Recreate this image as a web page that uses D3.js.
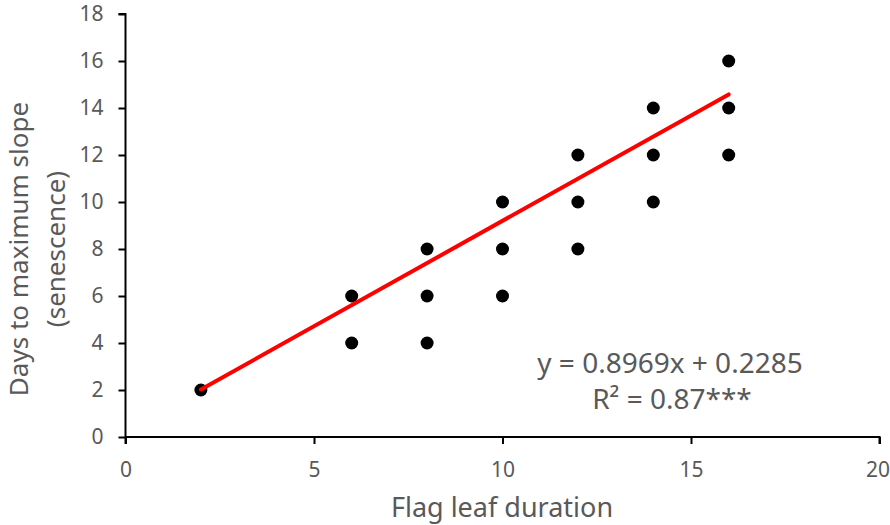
<!DOCTYPE html>
<html>
<head>
<meta charset="utf-8">
<script src="https://cdn.jsdelivr.net/npm/d3@7/dist/d3.min.js"></script>
<style>
  html, body { margin: 0; padding: 0; background: #fff; }
  svg { display: block; font-family: "Noto Sans", "Open Sans", sans-serif; }
</style>
</head>
<body>
<svg id="chart" width="890" height="525"></svg>
<script>
// Flag leaf duration (x) vs days to maximum slope of senescence (y)
const flagLeafDuration = [2, 6, 6, 8, 8, 8, 10, 10, 10, 12, 12, 12, 14, 14, 14, 16, 16, 16];
const daysToMaxSlope   = [2, 6, 4, 8, 6, 4, 10, 8, 6, 12, 10, 8, 14, 12, 10, 16, 14, 12];

// Linear fit reported on the chart
const fitSlope = 0.8969;
const fitIntercept = 0.2285;
const fitRange = [2, 16];
const fitLabel = "y = 0.8969x + 0.2285";
const r2Label = "R\u00B2 = 0.87***";

const xTicks = [0, 5, 10, 15, 20];
const yTicks = [0, 2, 4, 6, 8, 10, 12, 14, 16, 18];

const svg = d3.select("#chart");
const textColor = "#595959";

const x = d3.scaleLinear().domain([0, 20]).range([125.5, 879.5]);
const y = d3.scaleLinear().domain([0, 18]).range([437, 14]);

// Y axis
const yAxis = svg.append("g")
  .attr("transform", `translate(${x(0)},0)`)
  .call(d3.axisLeft(y).tickValues(yTicks).tickSize(7).tickPadding(15).tickFormat(d3.format("d")));
// X axis
const xAxis = svg.append("g")
  .attr("transform", `translate(0,${y(0)})`)
  .call(d3.axisBottom(x).tickValues(xTicks).tickSize(7).tickPadding(18).tickFormat(d3.format("d")));

[xAxis, yAxis].forEach(g => {
  g.select(".domain").attr("stroke", "#000").attr("stroke-width", 2);
  g.selectAll(".tick line").attr("stroke", "#000").attr("stroke-width", 2);
  g.selectAll(".tick text")
    .attr("fill", textColor)
    .style("font-size", "21px")
    .style("font-family", "'Noto Sans', sans-serif");
});
yAxis.select(".domain").attr("d", `M-7,${y(18)}H0V${y(0)}`);
xAxis.select(".domain").attr("d", `M${x(0)},0H${x(20)}V7`);
// last x tick label sits against the right edge
xAxis.selectAll(".tick text").filter(d => d === 20).attr("text-anchor", "end").attr("dx", 10);
// extend the y axis line down through the x axis tick
yAxis.append("line").attr("x1", 0).attr("x2", 0).attr("y1", y(0)).attr("y2", y(0) + 7)
  .attr("stroke", "#000").attr("stroke-width", 2);

// Data points
svg.append("g")
  .selectAll("circle")
  .data(flagLeafDuration.map((d, i) => [d, daysToMaxSlope[i]]))
  .join("circle")
  .attr("cx", d => x(d[0]))
  .attr("cy", d => y(d[1]))
  .attr("r", 6.5)
  .attr("fill", "#000");

// Trend line
svg.append("line")
  .attr("x1", x(fitRange[0]))
  .attr("y1", y(fitSlope * fitRange[0] + fitIntercept))
  .attr("x2", x(fitRange[1]))
  .attr("y2", y(fitSlope * fitRange[1] + fitIntercept))
  .attr("stroke", "#ff0000")
  .attr("stroke-width", 4)
  .attr("stroke-linecap", "round");

// Equation label
svg.append("text")
  .attr("x", 670).attr("y", 373)
  .attr("text-anchor", "middle")
  .attr("fill", textColor)
  .style("font-size", "28px")
  .text(fitLabel);
svg.append("text")
  .attr("x", 672).attr("y", 409)
  .attr("text-anchor", "middle")
  .attr("fill", textColor)
  .style("font-size", "28px")
  .text(r2Label);

// Axis titles
svg.append("text")
  .attr("x", 502).attr("y", 517)
  .attr("text-anchor", "middle")
  .attr("fill", textColor)
  .style("font-size", "27px")
  .text("Flag leaf duration");

const yTitle = svg.append("text")
  .attr("transform", "translate(0,249) rotate(-90)")
  .attr("text-anchor", "middle")
  .attr("fill", textColor)
  .style("font-size", "26px");
yTitle.append("tspan").attr("x", 0).attr("y", 28).text("Days to maximum slope");
yTitle.append("tspan").attr("x", 0).attr("y", 65).text("(senescence)");
</script>
</body>
</html>
